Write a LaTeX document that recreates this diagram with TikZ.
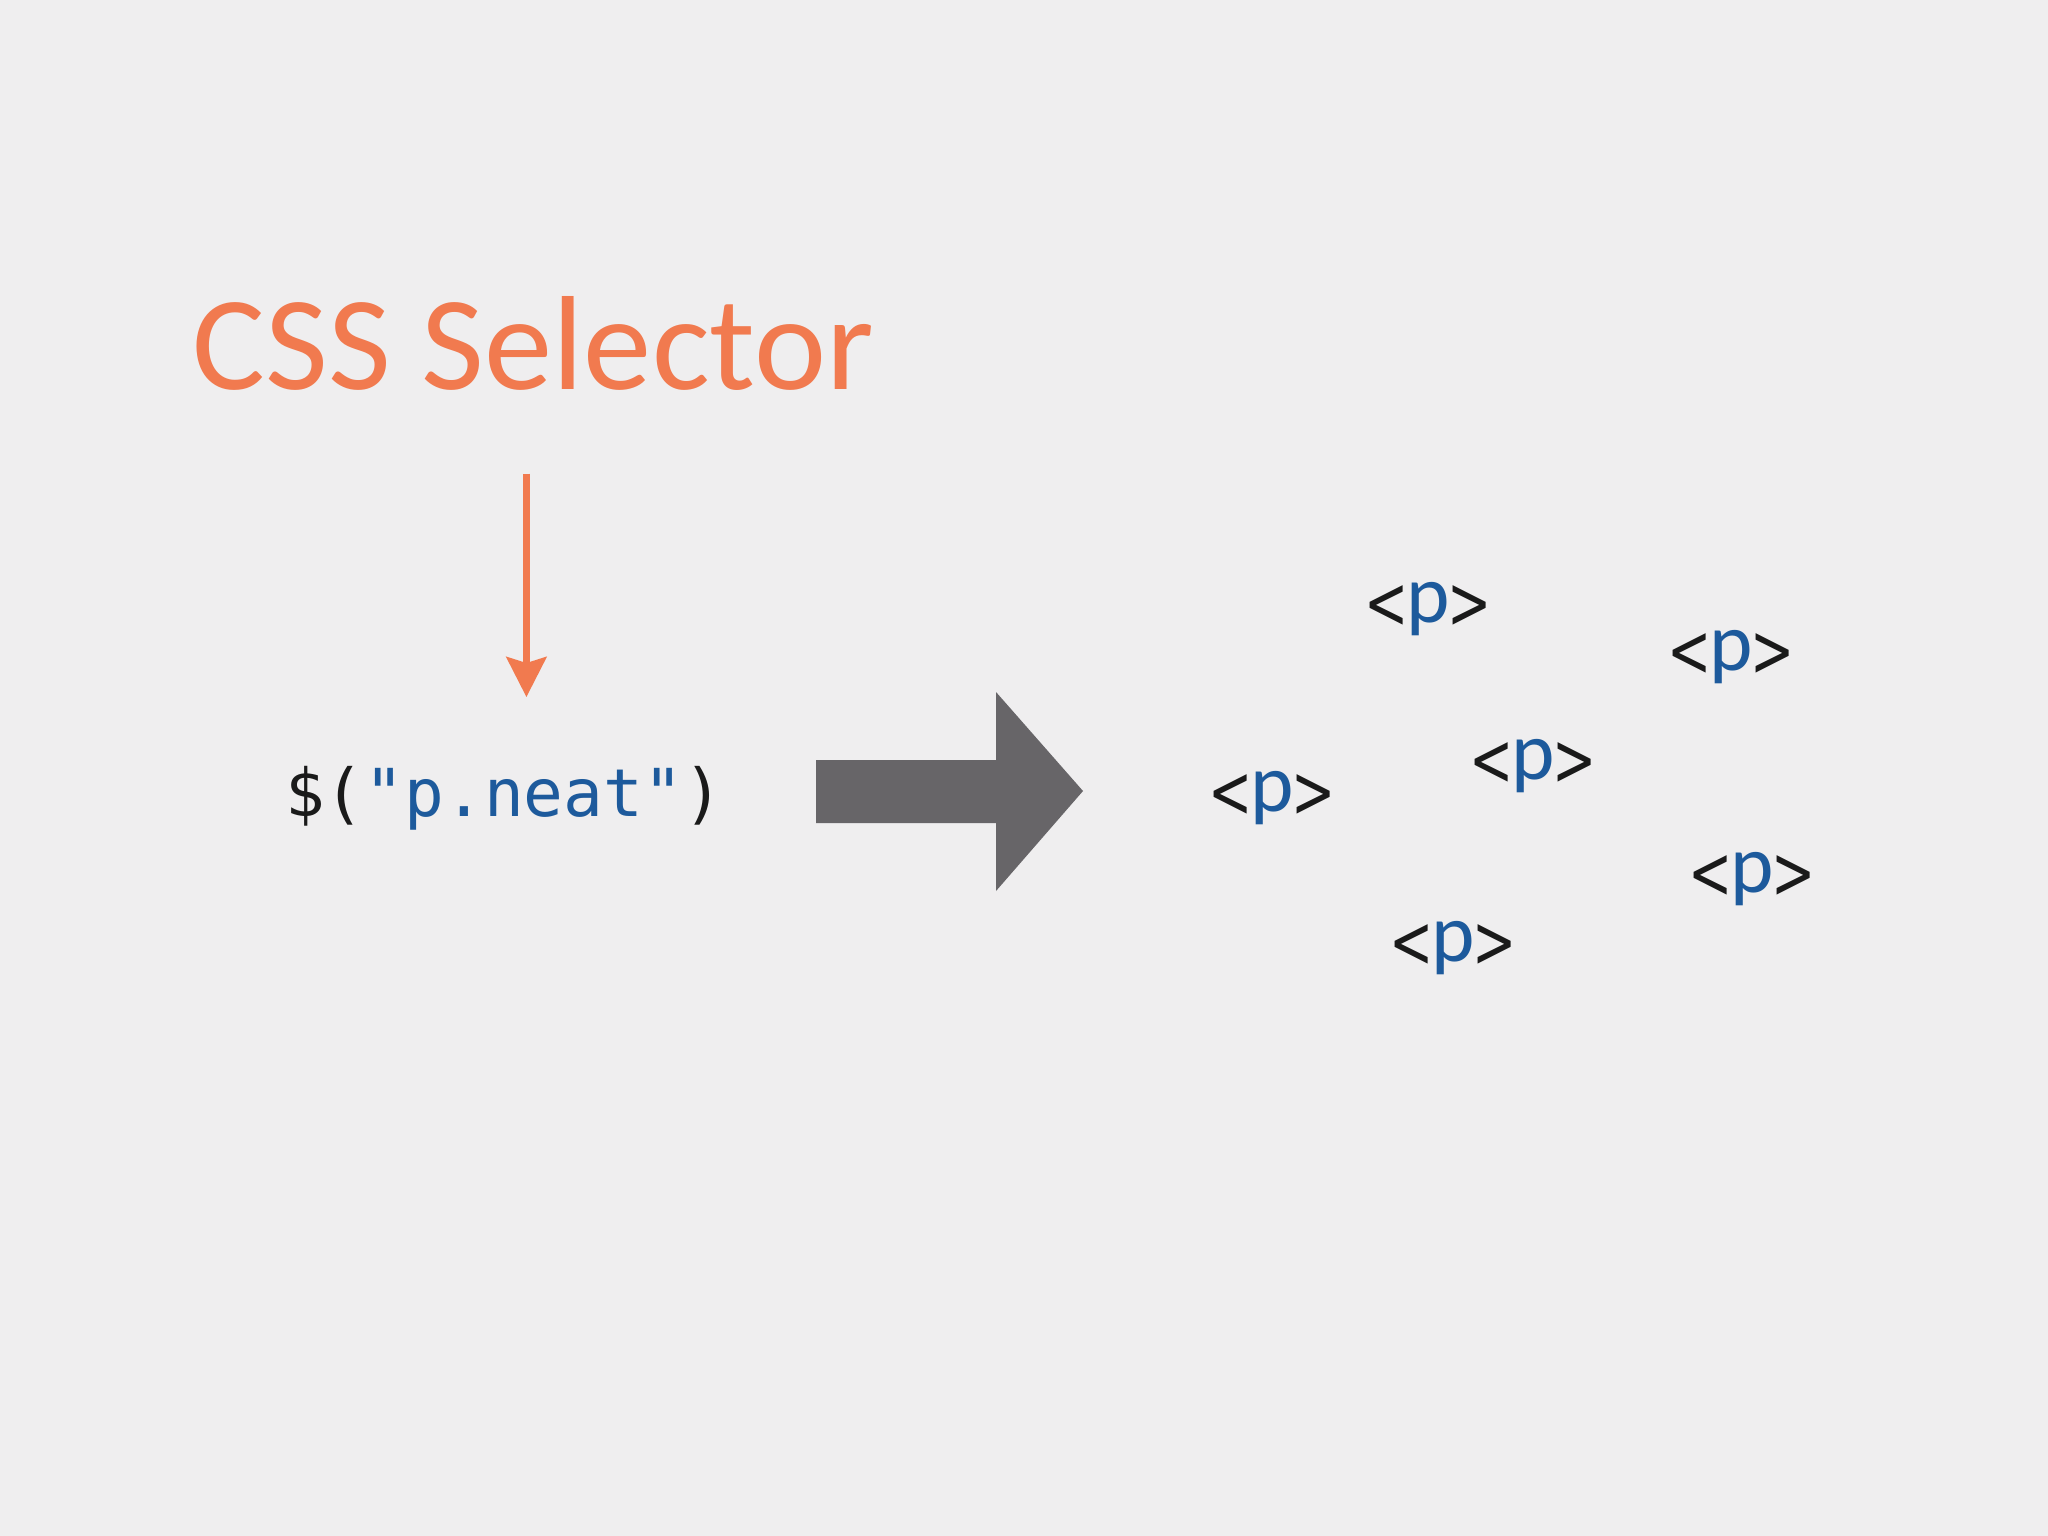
\documentclass[tikz,border=0pt]{standalone}
\usepackage{fontspec}
\usepackage{graphicx}
\usetikzlibrary{arrows.meta}
\newfontfamily\carl{Carlito}
\newfontfamily\carlwide[FakeStretch=1.02]{Carlito}
\newfontfamily\bracketfont{DejaVu Sans}
\newfontfamily\codefont{DejaVu Sans Mono}
\definecolor{bgc}{HTML}{EFEEEF}
\definecolor{selorange}{HTML}{F17A4F}
\definecolor{ink}{HTML}{1A1A1A}
\definecolor{codeblue}{HTML}{1D5A9C}
\definecolor{bigarrowgray}{HTML}{676568}
\tikzset{
  titletext/.style={inner sep=0pt, anchor=base west, text=selorange, font=\carlwide\fontsize{38.1}{40}\selectfont},
  codetext/.style={inner sep=0pt, anchor=base, font=\codefont\fontsize{18.8}{20}\selectfont},
  tagtext/.style={inner sep=0pt, anchor=base, font=\carl\fontsize{23.5}{25}\selectfont},
  selarrow/.style={draw=selorange, line width=0.065cm, -{Stealth[length=0.40cm,width=0.40cm,inset=0.06cm,fill=selorange]}},
}
\newcommand{\brk}[1]{\raisebox{-0.065cm}{\scalebox{1}[1.4]{\bracketfont\fontsize{15}{17}\selectfont\textcolor{ink}{#1}}}}
\newcommand{\ptag}{\brk{<}\kern-0.02cm\textcolor{codeblue}{p}\kern-0.02cm\brk{>}}
\begin{document}
\begin{tikzpicture}[x=0.01cm,y=-0.01cm]
\useasboundingbox (0,0) rectangle (2048,1536);
\fill[bgc] (0,0) rectangle (2048,1536);
% title
\node[titletext] (title) at (192,389) {CSS Selector};
% code
\node[codetext] (code) at (504,816) {\textcolor{ink}{\$(}\textcolor{codeblue}{"p.neat"}\textcolor{ink}{)}};
% orange arrow
\path ([xshift=-0.07cm,yshift=-0.83cm]title.south) coordinate (selstart);
\draw[selarrow] (selstart) -- ([yshift=0.68cm]selstart |- code.north);
% big gray arrow
\fill[bigarrowgray] (816,760) -- (996,760) -- (996,692) -- (1083,791) -- (996,891) -- (996,823) -- (816,823) -- cycle;
% tags
\node[tagtext] (tag1) at (1428,622) {\ptag};
\node[tagtext] (tag2) at (1731,670) {\ptag};
\node[tagtext] (tag3) at (1533,779) {\ptag};
\node[tagtext] (tag4) at (1272,811) {\ptag};
\node[tagtext] (tag5) at (1752,892) {\ptag};
\node[tagtext] (tag6) at (1453,961) {\ptag};
\end{tikzpicture}
\end{document}
